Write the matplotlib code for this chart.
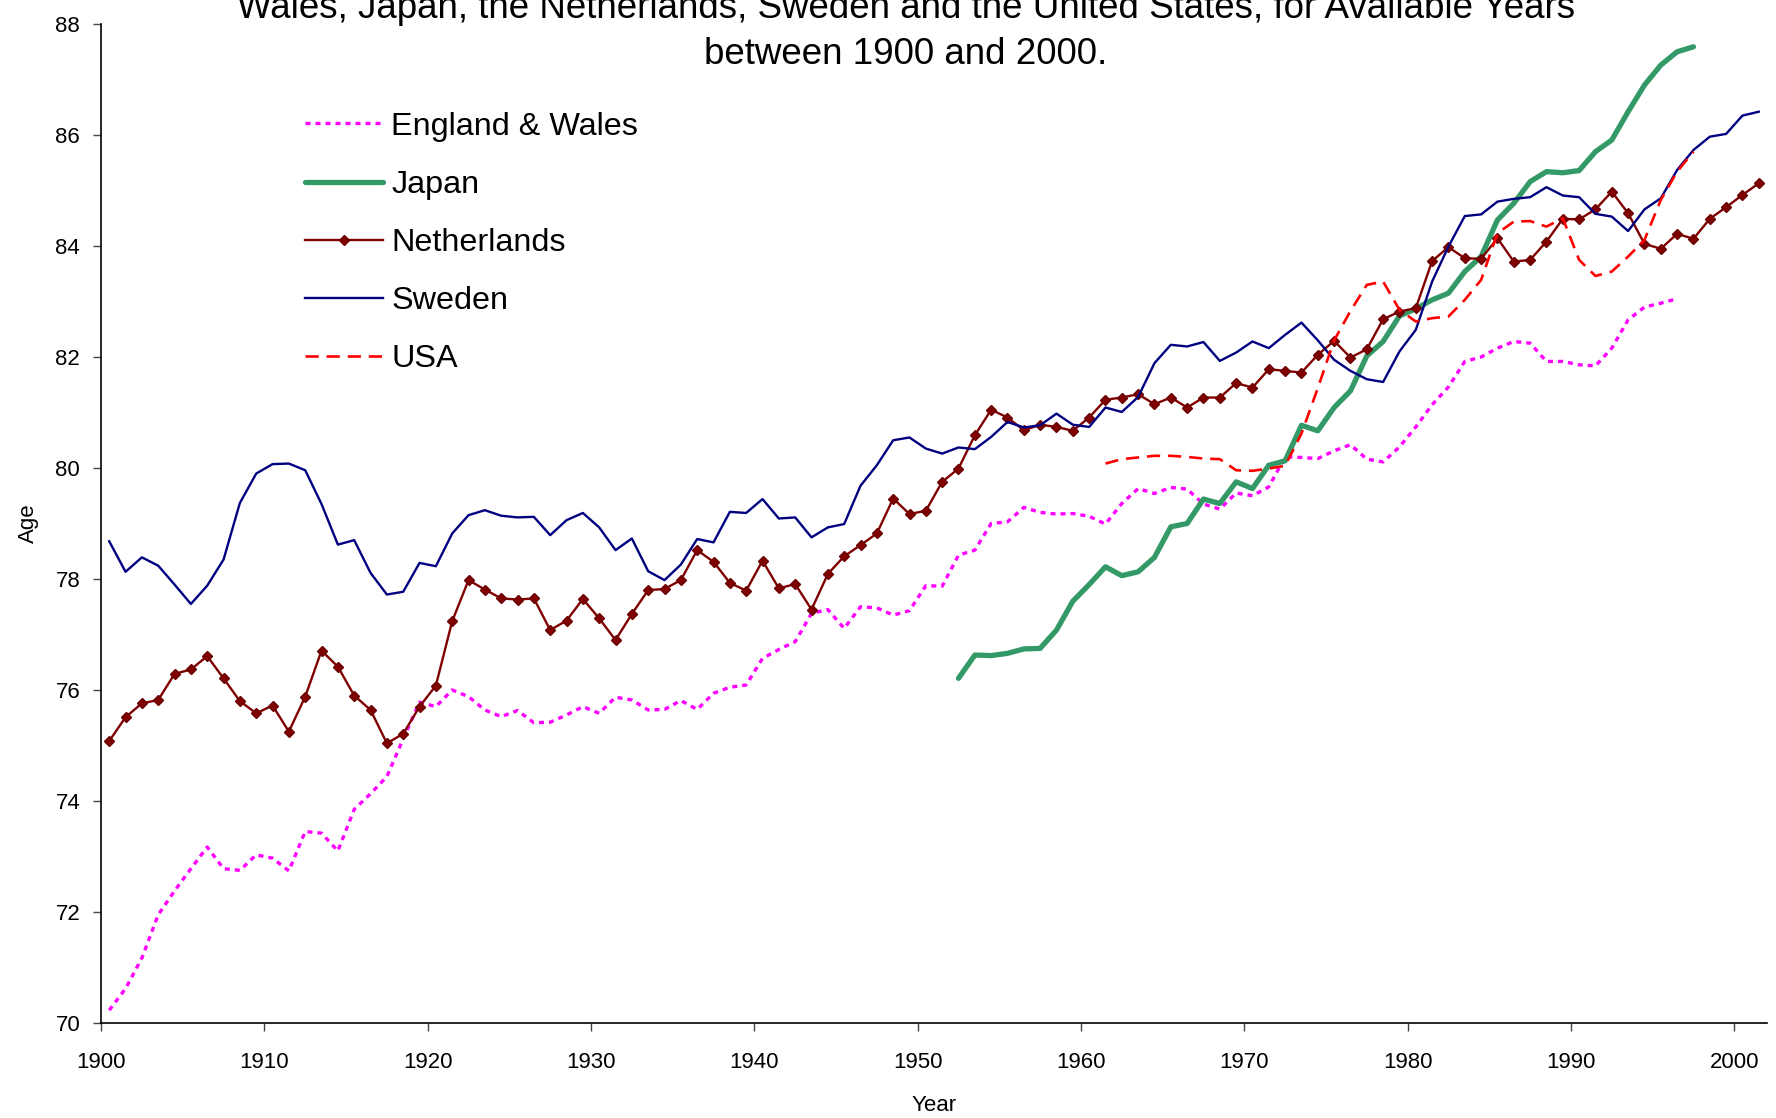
import numpy as np
import matplotlib
matplotlib.use("Agg")
import matplotlib.pyplot as plt

plt.rcParams['font.family'] = ['Liberation Sans', 'DejaVu Sans']

# life expectancy values
ew_start = 1900
england_wales = [70.23, 70.62, 71.17, 71.95, 72.38, 72.78, 73.17, 72.78, 72.75, 73.03,
                 72.97, 72.74, 73.45, 73.42, 73.10, 73.85, 74.13, 74.44, 75.12, 75.78,
                 75.70, 76.00, 75.88, 75.64, 75.52, 75.63, 75.41, 75.42, 75.55, 75.70,
                 75.58, 75.87, 75.82, 75.64, 75.65, 75.81, 75.65, 75.94, 76.05, 76.09,
                 76.57, 76.73, 76.87, 77.38, 77.45, 77.11, 77.50, 77.48, 77.35, 77.43,
                 77.88, 77.87, 78.43, 78.52, 79.00, 79.03, 79.29, 79.20, 79.17, 79.18,
                 79.13, 78.99, 79.36, 79.63, 79.54, 79.65, 79.62, 79.35, 79.26, 79.55,
                 79.50, 79.66, 80.20, 80.19, 80.17, 80.31, 80.42, 80.16, 80.11, 80.38,
                 80.74, 81.14, 81.46, 81.92, 82.00, 82.16, 82.28, 82.25, 81.92, 81.92,
                 81.86, 81.84, 82.16, 82.67, 82.90, 82.97, 83.05]

jp_start = 1952
japan = [76.21, 76.63, 76.62, 76.66, 76.74, 76.75, 77.08, 77.60, 77.90, 78.22,
         78.06, 78.13, 78.39, 78.94, 79.00, 79.44, 79.36, 79.75, 79.63, 80.05,
         80.13, 80.77, 80.67, 81.09, 81.39, 82.02, 82.28, 82.74, 82.87, 83.03,
         83.15, 83.54, 83.81, 84.47, 84.77, 85.16, 85.34, 85.32, 85.36, 85.70,
         85.91, 86.42, 86.90, 87.26, 87.50, 87.59]

nl_start = 1900
netherlands = [75.08, 75.51, 75.76, 75.82, 76.29, 76.37, 76.61, 76.21, 75.80, 75.58,
               75.72, 75.25, 75.88, 76.71, 76.42, 75.90, 75.64, 75.04, 75.21, 75.70,
               76.08, 77.24, 77.98, 77.81, 77.65, 77.63, 77.65, 77.08, 77.25, 77.64,
               77.29, 76.90, 77.37, 77.80, 77.82, 77.98, 78.52, 78.31, 77.93, 77.79,
               78.33, 77.83, 77.91, 77.45, 78.09, 78.41, 78.61, 78.82, 79.45, 79.17,
               79.23, 79.75, 79.99, 80.59, 81.05, 80.91, 80.68, 80.78, 80.74, 80.67,
               80.91, 81.23, 81.27, 81.33, 81.15, 81.27, 81.09, 81.27, 81.27, 81.53,
               81.45, 81.78, 81.75, 81.72, 82.04, 82.29, 81.99, 82.14, 82.68, 82.82,
               82.88, 83.73, 83.98, 83.78, 83.77, 84.14, 83.72, 83.75, 84.08, 84.49,
               84.48, 84.66, 84.98, 84.59, 84.04, 83.95, 84.22, 84.13, 84.49, 84.70,
               84.92, 85.13]

se_start = 1900
sweden = [78.68, 78.13, 78.39, 78.24, 77.90, 77.55, 77.88, 78.35, 79.37, 79.90,
          80.07, 80.08, 79.96, 79.35, 78.62, 78.70, 78.11, 77.72, 77.77, 78.29,
          78.23, 78.82, 79.15, 79.24, 79.14, 79.11, 79.12, 78.79, 79.06, 79.19,
          78.93, 78.52, 78.73, 78.14, 77.98, 78.26, 78.72, 78.66, 79.21, 79.19,
          79.44, 79.09, 79.11, 78.75, 78.93, 78.99, 79.68, 80.05, 80.50, 80.55,
          80.35, 80.26, 80.37, 80.34, 80.56, 80.83, 80.73, 80.77, 80.98, 80.78,
          80.74, 81.09, 81.01, 81.28, 81.89, 82.22, 82.19, 82.27, 81.93, 82.08,
          82.28, 82.16, 82.40, 82.62, 82.30, 81.95, 81.75, 81.60, 81.55, 82.10,
          82.49, 83.36, 83.99, 84.54, 84.57, 84.80, 84.85, 84.88, 85.06, 84.91,
          84.88, 84.58, 84.53, 84.27, 84.66, 84.86, 85.37, 85.73, 85.97, 86.02,
          86.35, 86.42]

us_start = 1961
usa = [80.08, 80.16, 80.19, 80.22, 80.22, 80.20, 80.17, 80.16, 79.96, 79.95,
       79.99, 80.04, 80.62, 81.44, 82.30, 82.83, 83.30, 83.36, 82.85, 82.64,
       82.70, 82.73, 83.03, 83.39, 84.23, 84.44, 84.45, 84.35, 84.50, 83.75,
       83.46, 83.54, 83.81, 84.11, 84.83, 85.34, 85.70]

year_ticks = list(range(1900, 2001, 10))
age_ticks = list(range(70, 89, 2))


def Years(start, values):
    # category style axis: each year sits in the middle of its slot
    return np.arange(start, start + len(values)) + 0.5


fig = plt.figure(figsize=(17.76, 11.18), dpi=100)
ax = fig.add_axes([0.0569, 0.085, 0.938, 0.8935])

ax.plot(Years(ew_start, england_wales), england_wales, color='#FF00FF',
        linewidth=2.4, linestyle=(0, (1.5, 1.5)), label='England & Wales')
ax.plot(Years(jp_start, japan), japan, color='#339966', linewidth=3.8,
        solid_capstyle='round', label='Japan')
ax.plot(Years(nl_start, netherlands), netherlands, color='#800000', linewidth=1.7,
        marker='D', markersize=5.5, markerfacecolor='#800000',
        markeredgecolor='#6a0000', label='Netherlands')
ax.plot(Years(se_start, sweden), sweden, color='#000080', linewidth=1.7, label='Sweden')
ax.plot(Years(us_start, usa), usa, color='#FF0000', linewidth=1.9,
        linestyle=(0, (5, 3)), label='USA')

ax.set_xlim(1900, 2002)
ax.set_ylim(70, 88)
ax.set_xticks(year_ticks)
ax.set_yticks(age_ticks)

for side in ['top', 'right']:
    ax.spines[side].set_visible(False)
for side in ['left', 'bottom']:
    ax.spines[side].set_linewidth(1.2)
    ax.spines[side].set_color('black')

ax.tick_params(axis='both', direction='out', length=6, width=1.0, color='#444444',
               labelsize=16)
ax.tick_params(axis='x', pad=15)
ax.tick_params(axis='y', pad=9)

ax.set_xlabel('Year', fontsize=16, labelpad=16)
ax.set_ylabel('Age', fontsize=16, labelpad=12)

# the first title line is clipped by the top edge, as in the source image
fig.text(0.51, 0.984, 'Wales, Japan, the Netherlands, Sweden and the United States, for Available Years',
         ha='center', va='baseline', fontsize=26.5)
fig.text(0.51, 0.943, 'between 1900 and 2000.', ha='center', va='baseline', fontsize=26.5)

leg = ax.legend(loc='upper left', bbox_to_anchor=(0.172, 0.90),
                bbox_transform=fig.transFigure, frameon=False, fontsize=23.3,
                handlelength=2.4, handletextpad=0.25, labelspacing=0.87,
                borderpad=0, borderaxespad=0)

plt.savefig('out.png', dpi=100)
